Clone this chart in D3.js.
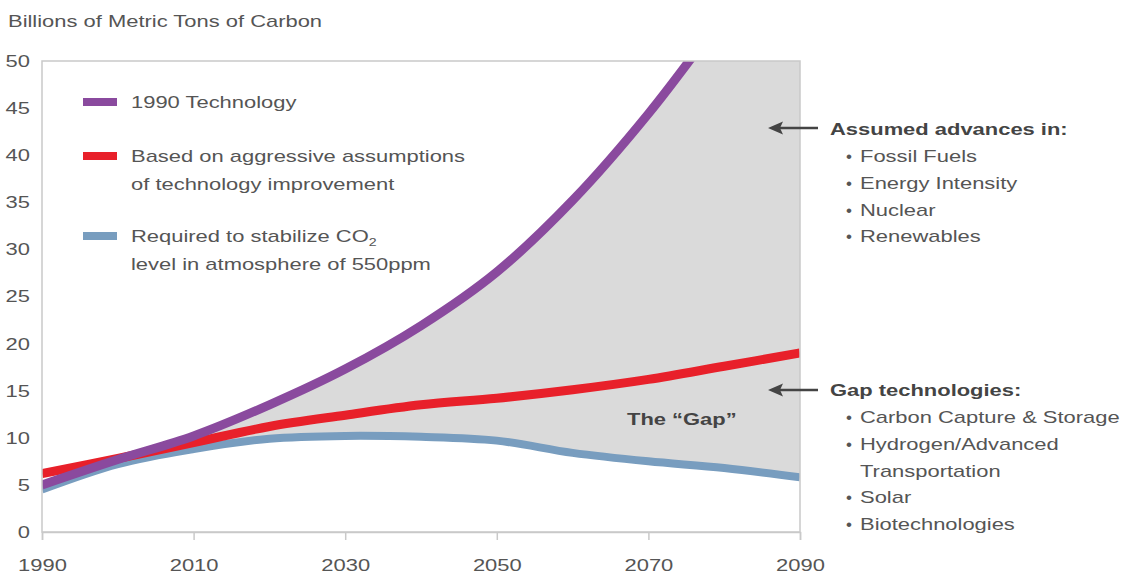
<!DOCTYPE html>
<html><head><meta charset="utf-8">
<script src="https://cdn.jsdelivr.net/npm/d3@7"></script>
<style>body{margin:0;background:#fff}text{font-family:"Liberation Sans",Arial,sans-serif}</style>
</head><body><svg id="c" width="1130" height="577"></svg>
<script>
const years = [1990, 2000, 2010, 2020, 2030, 2040, 2050, 2060, 2070, 2080, 2090];
const tech1990 = [5.0, 7.7, 10.2, 13.5, 17.3, 21.9, 27.6, 35.2, 44.4, 55, 66];
const aggressive = [6.2, 7.8, 9.5, 11.2, 12.4, 13.5, 14.2, 15.1, 16.2, 17.6, 19.0];
const stabilize = [4.5, 7.2, 8.8, 9.9, 10.2, 10.1, 9.7, 8.4, 7.5, 6.8, 5.8];
const xTicks = [1990, 2010, 2030, 2050, 2070, 2090];
const yTicks = [0, 5, 10, 15, 20, 25, 30, 35, 40, 45, 50];
const seriesNames = ["1990 Technology", "Based on aggressive assumptions|of technology improvement", "Required to stabilize CO\u2082|level in atmosphere of 550ppm"];
const seriesColors = ["#8a4a9e", "#e8202a", "#789dbf"];
const advancesHead = "Assumed advances in:";
const advances = ["Fossil Fuels", "Energy Intensity", "Nuclear", "Renewables"];
const gapHead = "Gap technologies:";
const gapTech = ["Carbon Capture & Storage", "Hydrogen/Advanced|Transportation", "Solar", "Biotechnologies"];

const STRETCH = 1.29;
const svg = d3.select("#c");
const L = 42, R = 800, T = 61, B = 532;
const x = d3.scaleLinear().domain([1990, 2090]).range([L, R]);
const y = d3.scaleLinear().domain([0, 50]).range([B, T]);
const data = years.map((yr, i) => ({yr, p: tech1990[i], r: aggressive[i], b: stabilize[i]}));

svg.append("text").attr("x", 8).attr("y", 27).attr("font-size", 17).attr("fill", "#555").text("Billions of Metric Tons of Carbon");

svg.append("defs").append("clipPath").attr("id", "clip").append("rect")
  .attr("x", L).attr("y", T).attr("width", R - L).attr("height", B - T);

const curve = d3.curveCatmullRom.alpha(0.5);
const g = svg.append("g").attr("clip-path", "url(#clip)");
g.append("path").datum(data).attr("fill", "#dadada")
  .attr("d", d3.area().curve(curve).x(d => x(d.yr)).y0(d => y(d.b)).y1(d => y(d.p)));

svg.append("rect").attr("x", L).attr("y", T).attr("width", R - L).attr("height", B - T)
  .attr("fill", "none").attr("stroke", "#c9c9c9").attr("stroke-width", 1.5);

const xa = svg.append("g").attr("transform", `translate(0,${B})`)
  .call(d3.axisBottom(x).tickValues(xTicks).tickFormat(d3.format("d")).tickSize(8).tickPadding(19));
xa.select(".domain").attr("stroke", "#c9c9c9").attr("stroke-width", 1.5);
xa.selectAll(".tick line").attr("stroke", "#c9c9c9").attr("stroke-width", 1.5);
xa.selectAll("text").attr("font-size", 17).attr("fill", "#555").attr("font-family", "Liberation Sans, Arial, sans-serif");

const ya = svg.append("g").attr("transform", `translate(${L},0)`)
  .call(d3.axisLeft(y).tickValues(yTicks).tickSize(0).tickPadding(12));
ya.select(".domain").remove();
ya.selectAll("text").attr("font-size", 17).attr("fill", "#555").attr("font-family", "Liberation Sans, Arial, sans-serif");

const widths = {p: 9, r: 9, b: 8};
const colorOf = {p: seriesColors[0], r: seriesColors[1], b: seriesColors[2]};
["b", "r", "p"].forEach(k => {
  g.append("path").datum(data).attr("fill", "none").attr("stroke", colorOf[k])
    .attr("stroke-width", widths[k])
    .attr("d", d3.line().curve(curve).x(d => x(d.yr)).y(d => y(d[k])));
});

const legY = [102, 156, 236];
seriesNames.forEach((n, i) => {
  svg.append("rect").attr("x", 83).attr("y", legY[i] - 4).attr("width", 34).attr("height", 8).attr("fill", seriesColors[i]);
  n.split("|").forEach((line, j) => {
    const t = svg.append("text").attr("x", 131).attr("y", legY[i] + 6 + j * 28).attr("font-size", 17).attr("fill", "#555");
    if (line.includes("\u2082")) {
      t.text(line.replace("\u2082", ""));
      t.append("tspan").attr("font-size", 11).attr("dy", 4).text("2");
    } else t.text(line);
  });
});

svg.append("text").attr("x", 627).attr("y", 425).attr("font-size", 17).attr("font-weight", "bold").attr("fill", "#444").text("The \u201cGap\u201d");

function arrow(yy) {
  svg.append("line").attr("x1", 818).attr("x2", 778).attr("y1", yy).attr("y2", yy).attr("stroke", "#444").attr("stroke-width", 2.5);
  svg.append("path").attr("d", `M768,${yy} L783,${yy - 6.5} L780,${yy} L783,${yy + 6.5} Z`).attr("fill", "#444");
}
function block(yHead, head, items) {
  svg.append("text").attr("x", 830).attr("y", yHead + 6).attr("font-size", 17).attr("font-weight", "bold").attr("fill", "#444").text(head);
  let yy = yHead + 27;
  items.forEach(it => {
    it.split("|").forEach((line, j) => {
      if (j === 0) svg.append("text").attr("class", "nostretch").attr("x", 846).attr("y", yy + 6).attr("font-size", 17).attr("fill", "#555").text("\u2022");
      svg.append("text").attr("x", 860).attr("y", yy + 6).attr("font-size", 17).attr("fill", "#555").text(line);
      yy += 26.8;
    });
  });
}
arrow(128); block(129, advancesHead, advances);
arrow(390); block(390, gapHead, gapTech);

svg.selectAll("text").each(function () {
  if (this.classList.contains("nostretch")) return;
  const w = this.getComputedTextLength();
  d3.select(this).attr("textLength", w * STRETCH).attr("lengthAdjust", "spacingAndGlyphs");
});
</script></body></html>
